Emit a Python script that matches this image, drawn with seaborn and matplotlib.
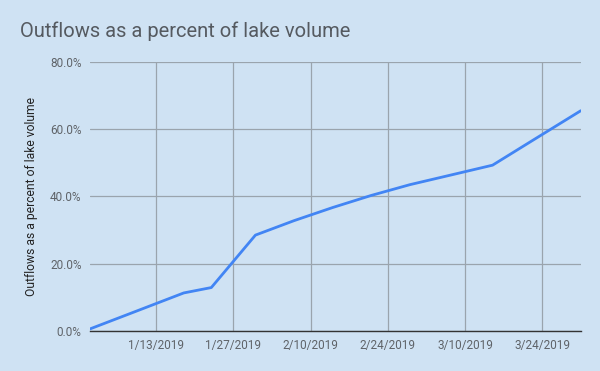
import pandas as pd
import seaborn as sns
import matplotlib.pyplot as plt
import matplotlib.dates as mdates
from matplotlib.ticker import FuncFormatter

datas = ['2019-01-01', '2019-01-08', '2019-01-18', '2019-01-23', '2019-01-31',
         '2019-02-07', '2019-02-14', '2019-02-21', '2019-02-28', '2019-03-07',
         '2019-03-15', '2019-03-22', '2019-03-31']
percentual = [0.6, 5.0, 11.3, 12.9, 28.5, 32.8, 36.7, 40.3, 43.5, 46.2, 49.3, 56.4, 65.5]
ticks_x = ['2019-01-13', '2019-01-27', '2019-02-10', '2019-02-24', '2019-03-10', '2019-03-24']

df = pd.DataFrame({'Data': pd.to_datetime(datas), 'Valor': percentual})

fundo = '#cfe2f3'
grade = '#9aa4ad'
texto = '#5f6368'

sns.set_theme(style="whitegrid")
plt.rcParams['font.family'] = ['Roboto', 'DejaVu Sans']

fig = plt.figure(figsize=(6, 3.71), dpi=100, facecolor=fundo)
ax = fig.add_axes([0.15, 0.108, 0.818, 0.725])
ax.set_facecolor(fundo)

sns.lineplot(data=df, x='Data', y='Valor', color='#4285f4', linewidth=2, ax=ax)

ax.set_xlim(pd.Timestamp('2019-01-01'), pd.Timestamp('2019-03-31'))
ax.set_ylim(0, 80)
ax.set_yticks([0, 20, 40, 60, 80])
ax.yaxis.set_major_formatter(FuncFormatter(lambda v, p: f'{v:.1f}%'))
ax.set_xticks(pd.to_datetime(ticks_x))
ax.xaxis.set_major_formatter(FuncFormatter(lambda v, p: f'{mdates.num2date(v).month}/{mdates.num2date(v).day}/{mdates.num2date(v).year}'))

ax.grid(True, color=grade, linewidth=0.9)
for lado in ['left', 'right', 'top']:
    ax.spines[lado].set_visible(False)
ax.spines['bottom'].set_color('#333333')
ax.spines['bottom'].set_linewidth(1)
ax.tick_params(axis='both', length=0, labelsize=8.5, colors=texto, pad=6)

ax.set_xlabel('')
ax.set_ylabel('Outflows as a percent of lake volume', fontsize=8.7, color='#222222', labelpad=9)

fig.text(0.033, 0.915, 'Outflows as a percent of lake volume', fontsize=14.5, color='#555a60', va='center', ha='left')

plt.savefig('out.png', dpi=100, facecolor=fundo)
